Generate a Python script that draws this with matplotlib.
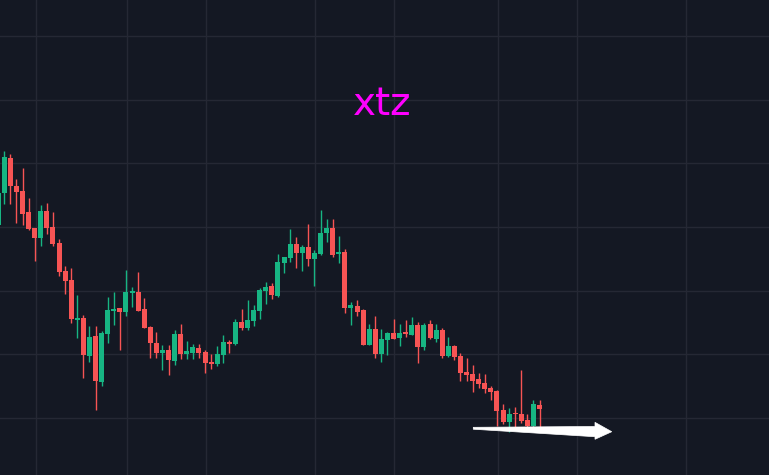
import numpy as np
import pandas as pd
import matplotlib
matplotlib.use('Agg')
import matplotlib.pyplot as plt
from matplotlib.patches import Polygon

# Velas de xtz
opens = [0.903, 0.953, 1.008, 0.964, 0.956, 0.923, 0.898, 0.883, 0.925, 0.900,
         0.875, 0.831, 0.817, 0.754, 0.757, 0.697, 0.729, 0.657, 0.732, 0.768,
         0.773, 0.766, 0.796, 0.798, 0.771, 0.743, 0.718, 0.702, 0.707, 0.690,
         0.732, 0.700, 0.702, 0.710, 0.704, 0.688, 0.685, 0.699, 0.719, 0.716,
         0.751, 0.741, 0.752, 0.768, 0.799, 0.807, 0.792, 0.843, 0.851, 0.873,
         0.859, 0.868, 0.850, 0.857, 0.890, 0.898, 0.857, 0.861, 0.773, 0.776,
         0.770, 0.715, 0.740, 0.700, 0.722, 0.733, 0.726, 0.735, 0.730, 0.746,
         0.711, 0.748, 0.724, 0.738, 0.697, 0.713, 0.697, 0.672, 0.669, 0.661,
         0.655, 0.647, 0.642, 0.613, 0.594, 0.608, 0.606, 0.597, 0.587, 0.620]
highs = [0.958, 1.019, 1.014, 0.975, 0.992, 0.945, 0.898, 0.934, 0.938, 0.923,
         0.881, 0.839, 0.836, 0.793, 0.762, 0.744, 0.744, 0.737, 0.790, 0.798,
         0.773, 0.832, 0.806, 0.829, 0.788, 0.744, 0.735, 0.715, 0.715, 0.738,
         0.748, 0.721, 0.716, 0.716, 0.707, 0.700, 0.713, 0.730, 0.722, 0.755,
         0.771, 0.785, 0.777, 0.804, 0.814, 0.812, 0.857, 0.853, 0.897, 0.884,
         0.872, 0.905, 0.864, 0.927, 0.912, 0.912, 0.886, 0.865, 0.782, 0.785,
         0.771, 0.748, 0.760, 0.740, 0.735, 0.755, 0.748, 0.754, 0.759, 0.751,
         0.749, 0.754, 0.748, 0.741, 0.727, 0.715, 0.702, 0.694, 0.683, 0.671,
         0.669, 0.650, 0.644, 0.622, 0.616, 0.617, 0.675, 0.606, 0.628, 0.628]
lows = [0.901, 0.936, 0.936, 0.906, 0.903, 0.895, 0.846, 0.870, 0.889, 0.870,
        0.823, 0.795, 0.749, 0.726, 0.663, 0.688, 0.613, 0.650, 0.718, 0.746,
        0.707, 0.760, 0.774, 0.768, 0.741, 0.694, 0.694, 0.675, 0.668, 0.683,
        0.693, 0.693, 0.693, 0.694, 0.671, 0.677, 0.682, 0.686, 0.702, 0.715,
        0.738, 0.738, 0.744, 0.755, 0.779, 0.787, 0.790, 0.828, 0.845, 0.836,
        0.831, 0.839, 0.807, 0.856, 0.876, 0.853, 0.843, 0.765, 0.746, 0.760,
        0.715, 0.715, 0.694, 0.688, 0.699, 0.724, 0.713, 0.727, 0.730, 0.686,
        0.707, 0.724, 0.719, 0.694, 0.696, 0.691, 0.658, 0.658, 0.641, 0.647,
        0.639, 0.628, 0.587, 0.591, 0.578, 0.581, 0.592, 0.581, 0.586, 0.584]
closes = [0.953, 1.010, 0.964, 0.955, 0.920, 0.897, 0.883, 0.925, 0.898, 0.873,
          0.829, 0.815, 0.755, 0.757, 0.699, 0.727, 0.658, 0.733, 0.770, 0.771,
          0.766, 0.798, 0.799, 0.768, 0.741, 0.718, 0.702, 0.707, 0.691, 0.732,
          0.700, 0.705, 0.711, 0.702, 0.686, 0.685, 0.700, 0.719, 0.716, 0.751,
          0.741, 0.754, 0.770, 0.801, 0.806, 0.793, 0.845, 0.853, 0.873, 0.859,
          0.868, 0.850, 0.859, 0.890, 0.898, 0.856, 0.861, 0.773, 0.777, 0.766,
          0.715, 0.740, 0.700, 0.724, 0.733, 0.724, 0.733, 0.732, 0.746, 0.711,
          0.746, 0.726, 0.738, 0.697, 0.713, 0.696, 0.671, 0.668, 0.658, 0.653,
          0.646, 0.641, 0.611, 0.594, 0.606, 0.606, 0.595, 0.587, 0.622, 0.614]

# Lineas de la cuadricula (posiciones de fecha en indice de vela, y precios)
grid_x = [6.21, 21.17, 34.16, 52.08, 65.07, 82.17, 95.16, 113.08]
grid_y = [0.6, 0.7, 0.8, 0.9, 1.0, 1.1, 1.2]

# Flecha blanca dibujada sobre el grafico (indice de vela, precio)
arrow_x = [78.11, 98.12, 98.12, 100.87, 98.12, 98.12, 78.11]
arrow_y = [0.5854, 0.5867, 0.5932, 0.5785, 0.5666, 0.5706, 0.5824]

df = pd.DataFrame({'open': opens, 'high': highs, 'low': lows, 'close': closes})
df['x'] = np.arange(len(df))

bg = '#141823'
up = '#17b583'
down = '#f75454'
colors = np.where(df['close'] >= df['open'], up, down)

fig = plt.figure(figsize=(7.69, 4.75), dpi=100, facecolor=bg)
ax = fig.add_axes([0, 0, 1, 1], facecolor=bg)

# Mechas
ax.vlines(df['x'], df['low'], df['high'], colors=colors, linewidth=1.0, zorder=2)

# Cuerpos
bottoms = df[['open', 'close']].min(axis=1)
heights = (df['close'] - df['open']).abs().clip(lower=0.0018)
ax.bar(df['x'], heights, bottom=bottoms, width=0.82, color=colors, linewidth=0, zorder=3)

# Flecha
ax.add_patch(Polygon(list(zip(arrow_x, arrow_y)), closed=True, facecolor='white',
                     edgecolor='white', linewidth=0.5, zorder=5))

# Cuadricula
ax.set_xticks(grid_x)
ax.set_yticks(grid_y)
ax.grid(True, color='#252834', linewidth=1.0, zorder=0)
ax.tick_params(length=0, labelbottom=False, labelleft=False)
for s in ax.spines.values():
    s.set_visible(False)

ax.set_xlim(0.293, 126.73)
ax.set_ylim(0.5105, 1.2565)

fig.text(0.4967, 0.758, 'xtz', color='#ff00ff', fontsize=28, ha='center', va='baseline')

fig.savefig('out.png', dpi=100, facecolor=bg)
